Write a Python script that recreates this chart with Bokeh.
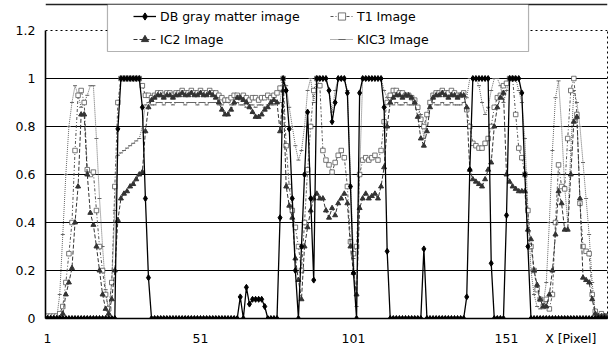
from bokeh.plotting import figure
from bokeh.models import (Range1d, FixedTicker, PrintfTickFormatter, LinearAxis,
                          Legend, LegendItem, Span, BoxAnnotation)
from bokeh.embed import file_html
from bokeh.resources import INLINE

# ---------------- data ----------------
x = list(range(1, 185))

db_gray = [
    0, 0, 0, 0, 0, 0, 0, 0, 0, 0,
    0, 0, 0, 0, 0, 0, 0, 0, 0, 0,
    0, 0, 0, 0.79, 1, 1, 1, 1, 1, 1,
    1, 0.88, 0.5, 0.17, 0, 0, 0, 0, 0, 0,
    0, 0, 0, 0, 0, 0, 0, 0, 0, 0,
    0, 0, 0, 0, 0, 0, 0, 0, 0, 0,
    0, 0, 0, 0.09, 0, 0.13, 0.06, 0.08, 0.08, 0.08,
    0.08, 0.05, 0, 0, 0, 0, 0.42, 1, 0.95, 0.79,
    0.5, 0.2, 0, 0.3, 0.6, 0.86, 0.5, 0.16, 1, 1,
    1, 1, 0.95, 0.82, 0.9, 1, 1, 1, 0.94, 0.55,
    0.19, 0, 0.94, 1, 1, 1, 1, 1, 1, 1,
    0.88, 0.28, 0, 0, 0, 0, 0, 0, 0, 0,
    0, 0, 0, 0.29, 0, 0, 0, 0, 0, 0,
    0, 0, 0, 0, 0, 0, 0, 0.09, 0.62, 1,
    1, 1, 1, 1, 1, 0.23, 0, 0, 0, 0,
    0.43, 1, 1, 1, 1, 0.94, 0.6, 0.3, 0, 0,
    0, 0, 0, 0, 0, 0, 0, 0, 0, 0,
    0, 0, 0, 0, 0, 0, 0, 0, 0, 0,
    0, 0, 0, 0,
]

t1_img = [
    0.01, 0.01, 0.01, 0.01, 0.02, 0.05, 0.15, 0.27, 0.4, 0.7,
    0.93, 0.95, 0.9, 0.62, 0.6, 0.61, 0.45, 0.3, 0.2, 0.1,
    0.04, 0.15, 0.55, 0.9, 1, 1, 1, 1, 1, 1,
    1, 0.97, 0.93, 0.93, 0.92, 0.93, 0.94, 0.94, 0.93, 0.94,
    0.94, 0.93, 0.94, 0.94, 0.95, 0.94, 0.94, 0.95, 0.94, 0.94,
    0.95, 0.94, 0.94, 0.95, 0.94, 0.94, 0.93, 0.92, 0.91, 0.91,
    0.92, 0.93, 0.93, 0.92, 0.93, 0.92, 0.91, 0.92, 0.92, 0.91,
    0.92, 0.92, 0.93, 0.92, 0.93, 0.94, 0.96, 1, 0.72, 0.55,
    0.45, 0.38, 0.3, 0.2, 0.4, 0.62, 0.8, 0.95, 1, 0.97,
    0.7, 0.66, 0.64, 0.61, 0.65, 0.68, 0.7, 0.67, 0.55, 0.32,
    0.27, 0.3, 0.6, 0.66, 0.67, 0.66, 0.67, 0.68, 0.66, 0.7,
    0.82, 0.9, 0.93, 0.95, 0.95, 0.94, 0.94, 0.93, 0.93, 0.92,
    0.91, 0.88, 0.83, 0.8, 0.85, 0.9, 0.93, 0.94, 0.94, 0.95,
    0.94, 0.94, 0.95, 0.94, 0.93, 0.93, 0.94, 0.87, 0.8, 0.73,
    0.72, 0.71, 0.71, 0.73, 0.75, 0.8, 0.88, 0.92, 0.93, 0.97,
    0.98, 1, 1, 0.85, 0.71, 0.67, 0.6, 0.45, 0.3, 0.2,
    0.12, 0.08, 0.05, 0.08, 0.04, 0.1, 0.4, 0.64, 0.55, 0.54,
    0.75, 0.95, 1, 0.85, 0.48, 0.3, 0.28, 0.27, 0.1, 0.03,
    0.01, 0.02, 0.01, 0.01,
]

ic2_img = [
    0, 0, 0, 0, 0, 0.02, 0.1, 0.15, 0.21, 0.4,
    0.55, 0.85, 0.85, 0.6, 0.44, 0.39, 0.3, 0.2, 0.1, 0.04,
    0.02, 0.08, 0.2, 0.41, 0.5, 0.52, 0.53, 0.55, 0.56, 0.58,
    0.6, 0.61, 0.78, 0.88, 0.91, 0.92, 0.93, 0.93, 0.92, 0.93,
    0.93, 0.92, 0.93, 0.93, 0.94, 0.93, 0.93, 0.94, 0.93, 0.93,
    0.94, 0.93, 0.93, 0.94, 0.93, 0.92, 0.9, 0.87, 0.85, 0.85,
    0.87, 0.9, 0.92, 0.92, 0.91, 0.9, 0.88, 0.86, 0.84, 0.84,
    0.85, 0.87, 0.88, 0.9, 0.91, 0.9, 0.78, 0.95, 0.55, 0.47,
    0.42, 0.25, 0.16, 0.08, 0.3, 0.38, 0.45, 0.5, 0.52, 0.5,
    0.5, 0.45, 0.42, 0.46, 0.43, 0.48, 0.5, 0.52, 0.48, 0.3,
    0.19, 0.1, 0.46, 0.5, 0.52, 0.5, 0.51, 0.52, 0.5, 0.55,
    0.63, 0.8, 0.9, 0.92, 0.93, 0.93, 0.92, 0.93, 0.93, 0.92,
    0.9, 0.84, 0.75, 0.72, 0.78, 0.88, 0.92, 0.93, 0.93, 0.94,
    0.93, 0.92, 0.93, 0.93, 0.92, 0.93, 0.93, 0.88, 0.62, 0.58,
    0.57, 0.56, 0.55, 0.58, 0.62, 0.65, 0.8, 0.88, 0.92, 0.94,
    0.6, 0.57, 0.55, 0.54, 0.53, 0.53, 0.53, 0.37, 0.33, 0.2,
    0.14, 0.08, 0.05, 0.05, 0.1, 0.2, 0.35, 0.53, 0.48, 0.37,
    0.37, 0.6, 0.82, 0.84, 0.5, 0.17, 0.16, 0.15, 0.08, 0.02,
    0.01, 0.01, 0.01, 0.01,
]

kic3_img = [
    0, 0, 0, 0, 0.1, 0.35, 0.6, 0.8, 0.9, 0.97,
    0.93, 0.88, 0.9, 0.93, 0.97, 0.97, 0.75, 0.5, 0.3, 0.12,
    0.02, 0.15, 0.45, 0.68, 0.69, 0.7, 0.71, 0.72, 0.73, 0.74,
    0.75, 0.8, 0.89, 0.9, 0.89, 0.89, 0.9, 0.9, 0.89, 0.9,
    0.9, 0.89, 0.9, 0.9, 0.9, 0.89, 0.9, 0.9, 0.9, 0.89,
    0.9, 0.9, 0.89, 0.9, 0.9, 0.9, 0.89, 0.89, 0.9, 0.9,
    0.89, 0.89, 0.9, 0.89, 0.89, 0.88, 0.89, 0.89, 0.88, 0.89,
    0.89, 0.88, 0.89, 0.89, 0.89, 0.9, 0.9, 1, 0.97, 0.88,
    0.8, 0.72, 0.66, 0.7, 0.8, 0.95, 1, 0.9, 1, 1,
    1, 1, 0.95, 0.86, 0.95, 1, 1, 1, 0.95, 0.6,
    0.25, 0.05, 0.6, 1, 1, 1, 1, 1, 1, 1,
    0.95, 0.92, 0.9, 0.89, 0.9, 0.89, 0.89, 0.9, 0.89, 0.89,
    0.89, 0.88, 0.85, 0.75, 0.85, 0.89, 0.9, 0.89, 0.89, 0.9,
    0.89, 0.89, 0.9, 0.89, 0.89, 0.89, 0.9, 0.92, 1, 1,
    1, 0.97, 0.9, 0.85, 0.88, 0.95, 1, 1, 0.97, 0.9,
    0.95, 1, 1, 1, 0.95, 0.9, 0.75, 0.45, 0.2, 0.1,
    0.05, 0.04, 0.06, 0.15, 0.4, 0.7, 0.92, 0.99, 0.8, 0.55,
    0.4, 0.7, 0.95, 0.9, 0.8, 0.65, 0.5, 0.35, 0.15, 0.02,
    0, 0, 0, 0,
]

series_labels = ["DB gray matter image", "IC2 Image", "T1 Image", "KIC3 Image"]
x_ticks = [1, 51, 101, 151]
y_ticks = [0, 0.2, 0.4, 0.6, 0.8, 1.0, 1.2]
grid_ticks = [0.2, 0.4, 0.6, 0.8, 1.0]
x_title = "X [Pixel]"
x_title_pos = 172

# ---------------- layout ----------------
X_START, X_END = 0.35, 184.0
Y_MAX_AXIS = 1.2
Y_TOP = 1.325
FONT = "DejaVu Sans"

p = figure(width=614, height=351, output_backend="svg", toolbar_location=None,
           x_range=Range1d(X_START, X_END), y_range=Range1d(0, Y_TOP),
           min_border_left=45, min_border_right=7, min_border_top=0,
           min_border_bottom=33)
p.outline_line_color = None
p.background_fill_color = "white"
p.border_fill_color = "white"

p.xgrid.visible = False
p.ygrid.ticker = FixedTicker(ticks=grid_ticks)
p.ygrid.grid_line_color = "black"
p.ygrid.grid_line_width = 1.2

xa = p.xaxis[0]
xa.ticker = FixedTicker(ticks=x_ticks + [x_title_pos])
xa.major_label_overrides = {x_title_pos: x_title}
xa.axis_line_color = "black"
xa.axis_line_width = 1.6
xa.major_tick_in = 0
xa.major_tick_out = 0
xa.minor_tick_in = 0
xa.minor_tick_out = 0
xa.major_label_standoff = 12
xa.major_label_text_font = FONT
xa.major_label_text_font_size = "12.5px"
xa.major_label_text_color = "black"

ya = p.yaxis[0]
ya.ticker = FixedTicker(ticks=y_ticks)
ya.formatter = PrintfTickFormatter(format="%g")
ya.bounds = (0, Y_MAX_AXIS)
ya.axis_line_color = "black"
ya.axis_line_width = 1.6
ya.major_tick_in = 0
ya.major_tick_out = 0
ya.minor_tick_in = 0
ya.minor_tick_out = 0
ya.major_label_standoff = 10
ya.major_label_text_font = FONT
ya.major_label_text_font_size = "12.5px"
ya.major_label_text_color = "black"

ra = LinearAxis(bounds=(0, Y_MAX_AXIS), ticker=FixedTicker(ticks=[]),
                axis_line_dash="2 3", axis_line_color="black",
                major_tick_in=0, major_tick_out=0, minor_tick_in=0, minor_tick_out=0,
                major_label_standoff=0, major_label_text_font_size="0px")
p.add_layout(ra, "right")

p.add_layout(Span(location=Y_MAX_AXIS, dimension="width", line_color="black",
                  line_dash="2 3", line_width=1))
# outer chart border along the top
p.add_layout(Span(location=1.3083, dimension="width", line_color="#222222",
                  line_width=1.5))

# ---------------- series ----------------
k_line = p.line(x, kic3_img, line_color="#666666", line_width=1, line_dash="1 1")
k_mark = p.scatter(x, kic3_img, marker="dash", size=4, line_color="#666666")

t_line = p.line(x, t1_img, line_color="#555555", line_width=1, line_dash="3 2 1 2")
t_mark = p.scatter(x, t1_img, marker="square", size=4.5, line_color="#555555",
                   fill_color="white", line_width=0.8)

i_line = p.line(x, ic2_img, line_color="#333333", line_width=1, line_dash="4 2")
i_mark = p.scatter(x, ic2_img, marker="triangle", size=5, line_color="#333333",
                   fill_color="#333333")

d_line = p.line(x, db_gray, line_color="black", line_width=1.3)
d_mark = p.scatter(x, db_gray, marker="diamond", size=6, line_color="black",
                   fill_color="black")

# ---------------- legend ----------------
p.add_layout(BoxAnnotation(left=20.6, right=158.2, bottom=1.1125, top=1.3083,
                           fill_color="white", fill_alpha=1,
                           line_color="black", line_width=1.2))

items = [
    LegendItem(label=series_labels[0], renderers=[d_line, d_mark]),
    LegendItem(label=series_labels[1], renderers=[i_line, i_mark]),
    LegendItem(label=series_labels[2], renderers=[t_line, t_mark]),
    LegendItem(label=series_labels[3], renderers=[k_line, k_mark]),
]
legend = Legend(items=items, ncols=2, location=(88, 270), orientation="vertical",
                padding=0, spacing=5, margin=0, glyph_width=23, glyph_height=18,
                label_height=18, label_width=165, label_standoff=4,
                border_line_alpha=0, background_fill_alpha=0,
                label_text_font=FONT, label_text_font_size="12.5px",
                label_text_color="black")
p.add_layout(legend, "center")

open("out.html", "w").write(file_html(p, INLINE))
